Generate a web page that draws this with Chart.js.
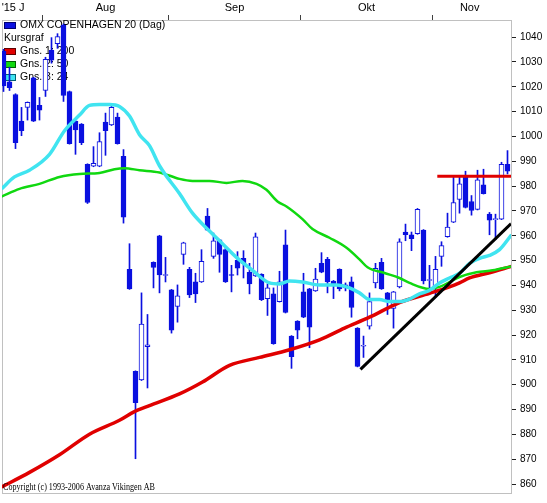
<!DOCTYPE html>
<html><head><meta charset="utf-8">
<script src="https://cdn.jsdelivr.net/npm/chart.js@4.4.1/dist/chart.umd.min.js"></script>
<style>html,body{margin:0;padding:0;background:#fff;overflow:hidden}canvas{display:block}</style>
</head><body>
<canvas id="c" width="547" height="503"></canvas>
<script>
// ---- data (x = trading-day index) ----
const candleOpen  = [1034.3,1022.0,1016.9,1006.2,1011.7,1023.6,1012.5,1018.5,1034.7,1037.4,1044.9,1018.1,1006.2,1005.0,988.8,988.0,988.0,1005.8,1004.6,1007.8,992.0,946.5,905.4,901.9,915.3,949.3,960.0,944.0,938.2,931.5,952.5,946.5,941.4,941.4,967.9,951.7,958.4,954.4,944.4,950.1,950.9,945.3,943.8,944.5,934.7,936.6,933.5,956.4,919.6,925.6,937.4,938.6,937.8,948.9,950.5,941.8,946.5,940.2,941.4,922.8,915.5,923.6,941.0,949.3,937.0,930.7,939.4,961.5,960.4,960.8,962.3,942.0,939.4,951.7,959.6,965.5,974.6,984.1,973.8,970.6,980.5,968.7,966.5,966.7,988.8];
const candleHigh  = [1035.1,1027.9,1017.2,1011.7,1013.9,1023.8,1015.7,1031.9,1039.8,1041.4,1045.3,1018.3,1006.4,1005.2,989.0,995.9,1001.5,1009.4,1013.3,1009.4,994.7,956.8,905.6,937.0,928.3,949.5,960.2,951.3,938.4,940.2,957.4,947.3,944.9,954.4,971.0,961.1,958.6,955.2,948.1,953.6,954.0,948.9,961.1,944.7,940.6,939.0,945.7,962.3,919.8,925.8,944.9,938.8,946.9,953.2,951.3,942.0,946.7,941.0,943.4,923.0,919.6,937.0,948.9,950.9,937.2,937.6,958.8,964.7,961.5,971.0,962.5,948.1,951.7,957.6,969.1,983.7,984.1,986.0,976.2,986.4,986.8,969.4,968.7,989.6,994.3];
const candleLow   = [1018.1,1018.5,995.1,1000.3,1006.6,1006.0,1006.6,1016.1,1029.5,1035.5,1014.1,996.9,992.8,996.7,973.0,987.8,987.8,992.4,1004.4,996.9,965.1,938.4,870.2,901.7,898.7,939.0,937.0,941.4,920.8,925.2,948.5,935.1,933.1,941.2,962.1,950.9,945.3,941.2,937.4,944.2,943.0,936.6,943.6,933.9,927.9,916.3,933.3,928.9,906.6,918.5,927.0,914.9,937.6,945.1,937.0,934.7,937.8,937.8,927.2,907.2,911.0,922.4,939.0,938.4,928.3,922.8,939.0,958.0,954.0,960.6,940.6,937.0,935.1,947.7,959.4,965.3,969.1,971.2,968.3,970.4,976.8,960.4,958.4,966.5,984.9];
const candleClose = [1020.4,1019.6,997.5,1002.3,1013.7,1006.2,1010.6,1031.1,1030.7,1040.2,1016.5,997.1,1002.6,997.5,973.4,989.2,997.9,1002.3,1011.7,997.1,967.5,938.6,892.8,924.4,916.1,947.3,944.2,944.4,922.0,935.8,957.2,936.2,936.6,949.7,962.3,958.0,952.5,941.4,944.0,946.9,948.9,940.6,959.6,934.3,939.0,916.5,941.4,929.1,911.3,922.0,927.2,923.2,942.6,945.3,941.4,940.6,938.6,939.0,931.1,907.4,915.9,933.5,946.9,938.6,933.5,937.4,957.6,960.4,958.8,970.6,941.8,942.4,946.5,956.0,963.5,973.4,980.9,971.4,970.2,982.5,977.0,966.3,966.9,988.8,986.0];

const ma200X = [-0.33,4.33,9.33,14.33,19.33,21.83,24.33,29.33,33.17,37.67,42.67,47.67,52.67,56.83,61,66,71,74.33,76,77.67,81,84.67];
const ma200Y = [858.8,864.7,871.8,880.1,885.7,889.2,891.6,896.3,901.1,907.8,911.0,914.1,918.1,922.8,927.2,933.1,936.8,939.4,941.0,943.0,945.1,947.7];
const ma50X  = [-0.33,2.67,6,9.33,12.67,16,18.5,20.17,22.67,26,29.33,31.5,34.33,37.17,39.83,42.17,43.83,45.67,47.17,49.83,51.5,54.33,57.17,59.33,60.67,63.5,66,67.67,71,72.67,76,78.83,81.5,84.67];
const ma50Y  = [975.8,978.9,980.9,983.7,984.9,985.3,986.8,987.2,986.4,985.5,982.9,982.1,982.1,981.3,982.1,980.9,978.5,973.8,971.8,966.7,962.7,959.2,955.2,950.5,947.3,945.0,943.0,941.0,938.6,939.4,943.4,945.3,946.1,947.7];
const ma24X  = [-0.33,1.83,4.33,7.67,10.17,12.67,14.33,16,17.67,19.33,21,22.67,24.33,26,29.33,31.5,34.33,36.5,38.83,41.5,44.33,46,47.67,49.83,52.67,55.5,57.67,59.33,61,62.67,64.33,66,67.67,69.33,71,72.67,74.33,76,77.67,79.83,81,82.67,84.67];
const ma24Y  = [978.9,983.7,986.4,992.8,1002.3,1008.6,1012.5,1012.9,1012.9,1012.1,1008.2,1000.7,996.3,988.2,977.0,969.1,961.9,956.8,951.3,946.1,941.0,940.6,941.8,941.4,940.2,940.2,939.0,937.0,934.3,934.3,933.5,933.5,934.5,936.6,938.0,941.0,943.0,944.9,948.9,951.3,952.1,954.4,960.4];
const trendX = [59.5, 84.6];
const trendY = [906.2, 964.9];
const resistX = [72.3, 84.6];
const resistY = [984.0, 984.0];

const monthNames = ["'15 J", "Aug", "Sep", "Okt", "Nov"];
const monthLabelPos = [1.6, 17, 38.5, 60.5, 77.7];
const monthBoundaries = [6.5, 27.5, 49.5, 71.5];
const yTicks = [860,870,880,890,900,910,920,930,940,950,960,970,980,990,1000,1010,1020,1030,1040];
const legendTexts = ['OMX COPENHAGEN 20 (Dag)', 'Kursgraf', 'Gns. 1: 200', 'Gns. 2: 50', 'Gns. 3: 24'];
const copyrightText = 'Copyright (c) 1993-2006 Avanza Vikingen AB';

// ---- styles ----
const BLUE = '#0a10e0', RED = '#e00000', GREEN = '#10d810', CYAN = '#40e4f0';
const X_MIN = -0.25, X_MAX = -0.25 + 509 / 6;
const Y_MIN = 856.4, Y_MAX = 1046.9;
const FONT = '"Liberation Sans", Arial, sans-serif';

const pts = (xs, ys) => xs.map((x, i) => ({x, y: ys[i]}));
const isDown = i => candleClose[i] < candleOpen[i];

const overlay = {
  id: 'overlay',
  beforeDatasetsDraw(chart) {
    const {ctx, chartArea: a} = chart;
    ctx.save();
    ctx.strokeStyle = '#c0c0c0';
    ctx.lineWidth = 1;
    ctx.strokeRect(a.left + 0.5, a.top + 0.5, a.right - a.left, a.bottom - a.top);
    // legend
    const boxColors = [BLUE, null, RED, GREEN, CYAN];
    const boxStroke = ['#000070', null, '#600000', '#006000', '#006070'];
    ctx.font = '10.5px ' + FONT;
    ctx.textBaseline = 'middle';
    ctx.fillStyle = '#000';
    legendTexts.forEach((t, k) => {
      const cy = a.top + 5 + k * 13;
      if (boxColors[k]) {
        ctx.fillStyle = boxColors[k];
        ctx.fillRect(a.left + 2, cy - 3, 12, 7);
        ctx.strokeStyle = boxStroke[k];
        ctx.strokeRect(a.left + 2.5, cy - 2.5, 11, 6);
        ctx.fillStyle = '#000';
        ctx.fillText(t, a.left + 18, cy);
      } else {
        ctx.fillStyle = '#000';
        ctx.fillText(t, a.left + 2, cy);
      }
    });
    ctx.restore();
  },
  afterDraw(chart) {
    const {ctx, chartArea: a} = chart;
    ctx.save();
    ctx.font = '10px "Liberation Serif", "Times New Roman", serif';
    ctx.fillStyle = '#000';
    ctx.textBaseline = 'alphabetic';
    ctx.fillText(copyrightText, a.left + 1, a.bottom - 3, 152);
    ctx.restore();
  }
};

new Chart(document.getElementById('c'), {
  type: 'bar',
  data: {
    datasets: [
      {type: 'line', data: pts(resistX, resistY), borderColor: RED, borderWidth: 3, pointRadius: 0, order: 0},
      {type: 'line', data: pts(trendX, trendY), borderColor: '#000', borderWidth: 3, pointRadius: 0, order: 0},
      {type: 'line', data: pts(ma24X, ma24Y), borderColor: CYAN, borderWidth: 3.5, pointRadius: 0, cubicInterpolationMode: 'monotone', order: 1},
      {type: 'line', data: pts(ma50X, ma50Y), borderColor: GREEN, borderWidth: 2.5, pointRadius: 0, cubicInterpolationMode: 'monotone', order: 2},
      {type: 'line', data: pts(ma200X, ma200Y), borderColor: RED, borderWidth: 3.5, pointRadius: 0, cubicInterpolationMode: 'monotone', order: 3},
      {type: 'bar', data: candleOpen.map((o, i) => ({x: i, y: [o, candleClose[i]]})),
        backgroundColor: c => isDown(c.dataIndex) ? BLUE : '#ffffff',
        borderColor: BLUE, borderWidth: 1, borderSkipped: false, barThickness: 5, grouped: false, order: 5},
      {type: 'bar', data: candleLow.map((l, i) => ({x: i, y: [l, candleHigh[i]]})),
        backgroundColor: BLUE, borderWidth: 0, barThickness: 1, grouped: false, order: 6}
    ]
  },
  options: {
    responsive: false,
    animation: false,
    events: [],
    layout: {padding: {left: 2, right: 0, top: 0, bottom: 1}},
    plugins: {legend: {display: false}, tooltip: {enabled: false}},
    scales: {
      x: {type: 'linear', display: false, min: X_MIN, max: X_MAX, offset: false, grid: {offset: false}},
      xTop: {
        type: 'linear', axis: 'x', position: 'top', min: X_MIN, max: X_MAX, offset: false,
        afterBuildTicks: s => {
          s.ticks = monthLabelPos.map(v => ({value: v})).concat(monthBoundaries.map(v => ({value: v})));
        },
        afterFit: s => { s.height = 20; },
        ticks: {
          autoSkip: false, maxRotation: 0, padding: 0, color: '#000',
          font: {family: FONT, size: 11},
          callback: v => { const k = monthLabelPos.indexOf(v); return k >= 0 ? monthNames[k] : ''; }
        },
        grid: {drawOnChartArea: false, drawTicks: true, tickLength: 5, offset: false,
          color: c => (c.tick && monthBoundaries.includes(c.tick.value)) ? '#404040' : 'rgba(0,0,0,0)'},
        border: {display: false}
      },
      y: {
        type: 'linear', position: 'right', min: Y_MIN, max: Y_MAX, beginAtZero: false,
        afterBuildTicks: s => { s.ticks = yTicks.map(v => ({value: v})); },
        afterFit: s => { s.width = 36; },
        ticks: {padding: 4, color: '#000', font: {family: FONT, size: 10}, callback: v => String(v)},
        grid: {drawOnChartArea: false, drawTicks: true, tickLength: 5, color: '#202020'},
        border: {display: false}
      }
    }
  },
  plugins: [overlay]
});
</script>
</body></html>
